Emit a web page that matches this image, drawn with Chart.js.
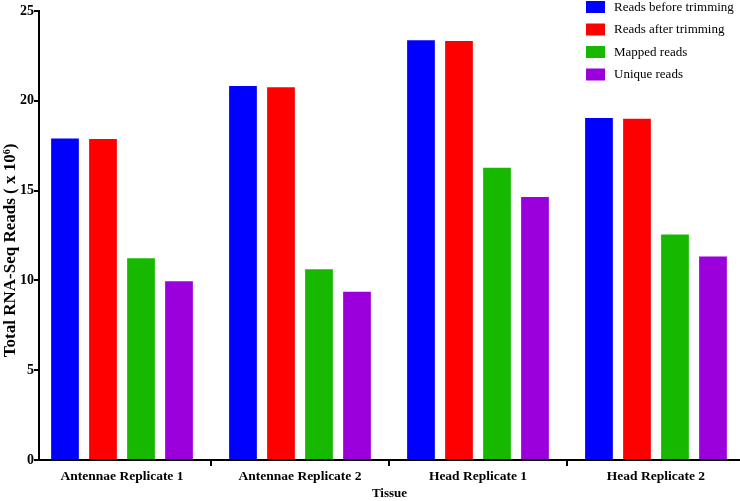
<!DOCTYPE html>
<html>
<head>
<meta charset="utf-8">
<script src="https://cdn.jsdelivr.net/npm/chart.js@4.4.1/dist/chart.umd.min.js"></script>
<style>
  html, body { margin: 0; padding: 0; background: #fff; overflow: hidden; }
  canvas { display: block; }
</style>
</head>
<body>
<canvas id="c" width="740" height="501"></canvas>
<script>
const categories = ["Antennae Replicate 1", "Antennae Replicate 2", "Head Replicate 1", "Head Replicate 2"];
const seriesNames = ["Reads before trimming", "Reads after trimming", "Mapped reads", "Unique reads"];
const readsBefore = [17.90, 20.83, 23.37, 19.04];
const readsAfter  = [17.87, 20.75, 23.33, 19.00];
const mappedReads = [11.23, 10.62, 16.27, 12.55];
const uniqueReads = [9.95, 9.37, 14.65, 11.33];
const yTicks = [0, 5, 10, 15, 20, 25];
const colors = ["#0000FF", "#FF0000", "#16B800", "#9B00DC"];

const serif = '"Liberation Serif", "Times New Roman", serif';
const allSeries = [readsBefore, readsAfter, mappedReads, uniqueReads];

const datasets = allSeries.map((vals, k) => ({
  label: seriesNames[k],
  data: vals.map((v, i) => ({ x: i, y: v })),
  backgroundColor: colors[k],
  borderWidth: 0,
  categoryPercentage: 0.854,
  barPercentage: 0.73
}));

const legendPlugin = {
  id: 'sideLegend',
  afterDraw(chart) {
    const ctx = chart.ctx;
    ctx.save();
    ctx.font = '13px ' + serif;
    ctx.textBaseline = 'middle';
    ctx.textAlign = 'left';
    chart.data.datasets.forEach((ds, i) => {
      const top = 1 + 22.5 * i;
      ctx.fillStyle = ds.backgroundColor;
      ctx.fillRect(586, top, 19, 12);
      ctx.fillStyle = '#000';
      ctx.fillText(ds.label, 614, top + 6.5);
    });
    ctx.restore();
  }
};

new Chart(document.getElementById('c'), {
  type: 'bar',
  data: { datasets },
  plugins: [legendPlugin],
  options: {
    responsive: false,
    animation: false,
    layout: { padding: { top: 11, right: 0, bottom: 0, left: 0 } },
    plugins: { legend: { display: false }, tooltip: { enabled: false } },
    scales: {
      x: {
        type: 'linear',
        min: -0.4663,
        max: 3.472,
        offset: false,
        afterBuildTicks(scale) {
          scale.ticks = categories.map((c, i) => ({ value: i }));
        },
        afterFit(scale) { scale.height = 41; },
        grid: { display: true, drawOnChartArea: false, drawTicks: true, tickLength: 6, color: '#000', lineWidth: 2 },
        border: { display: true, color: '#000', width: 2 },
        ticks: {
          autoSkip: false,
          maxRotation: 0,
          padding: 2,
          color: '#000',
          font: { family: serif, size: 13.5, weight: 'bold' },
          callback: (v) => categories[v]
        },
        title: {
          display: true,
          text: 'Tissue',
          color: '#000',
          font: { family: serif, size: 13, weight: 'bold' },
          padding: { top: 0, bottom: 0 }
        }
      },
      y: {
        min: 0,
        max: 25,
        afterBuildTicks(scale) {
          scale.ticks = yTicks.map(v => ({ value: v }));
        },
        afterFit(scale) { scale.width = 39; },
        grid: { display: true, drawOnChartArea: false, drawTicks: true, tickLength: 5, color: '#000', lineWidth: 2 },
        border: { display: true, color: '#000', width: 2 },
        ticks: {
          padding: 0,
          color: '#000',
          font: { family: serif, size: 14, weight: 'bold' }
        },
        title: {
          display: true,
          text: 'Total RNA-Seq Reads ( x 10\u2076)\u00A0\u00A0\u00A0\u00A0\u00A0\u00A0\u00A0',
          color: '#000',
          font: { family: serif, size: 17, weight: 'bold' },
          padding: { top: 0, bottom: 0 }
        }
      }
    }
  }
});
</script>
</body>
</html>
